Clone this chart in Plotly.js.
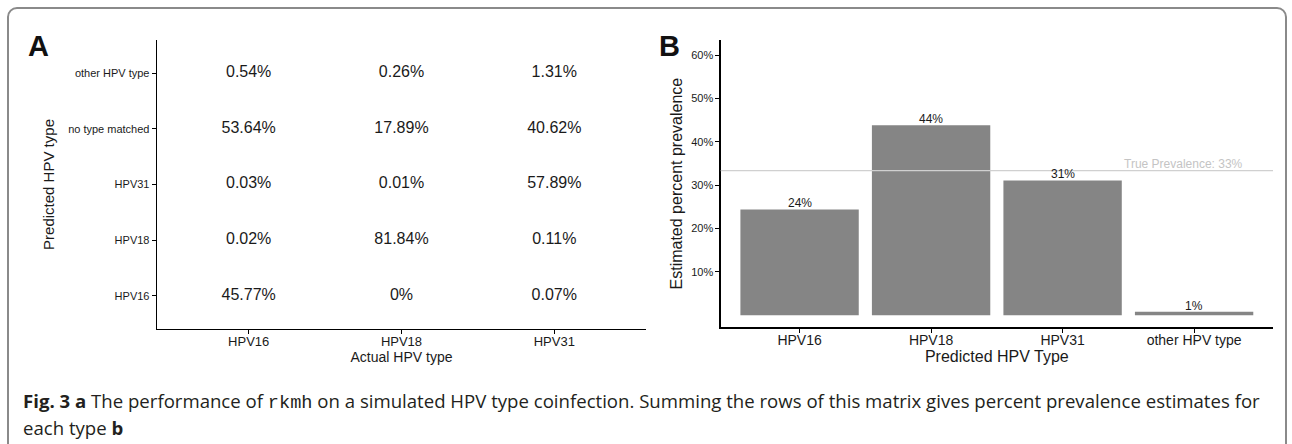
<!DOCTYPE html>
<html>
<head>
<meta charset="utf-8">
<script src="https://cdn.plot.ly/plotly-3.0.1.min.js"></script>
<style>
  html, body { margin: 0; padding: 0; background: #fff; }
  #wrap { position: relative; width: 1292px; height: 444px; overflow: hidden; }
  #frame { position: absolute; left: 7px; top: 7px; width: 1280px; height: 460px;
           border: 2px solid #8a8a8a; border-radius: 10px; box-sizing: border-box; pointer-events: none; }
  #chart { position: absolute; left: 0; top: 0; width: 1292px; height: 444px; }
</style>
</head>
<body>
<div id="wrap">
  <div id="chart"></div>
  <div id="frame"></div>
</div>
<script>
// ---- Panel A: confusion matrix (percent) ----
const actualTypes = ["HPV16", "HPV18", "HPV31"];
const predictedTypes = ["HPV16", "HPV18", "HPV31", "no type matched", "other HPV type"];
// rows follow predictedTypes, columns follow actualTypes
const rowHPV16 = [45.77, 0, 0.07];
const rowHPV18 = [0.02, 81.84, 0.11];
const rowHPV31 = [0.03, 0.01, 57.89];
const rowNoMatch = [53.64, 17.89, 40.62];
const rowOther = [0.54, 0.26, 1.31];

// ---- Panel B: estimated prevalence ----
const prevCategories = ["HPV16", "HPV18", "HPV31", "other HPV type"];
const prevValues = [24.4, 43.8, 31.1, 0.8];
const prevLabels = ["24%", "44%", "31%", "1%"];
const trueValue = 33.33;
const trueLabel = "True Prevalence: 33%";

const rows = [rowHPV16, rowHPV18, rowHPV31, rowNoMatch, rowOther];
const mx = [], my = [], mt = [];
rows.forEach((r, i) => r.forEach((v, j) => {
  mx.push(actualTypes[j]); my.push(predictedTypes[i]); mt.push(v + "%");
}));

const FONT = "Liberation Sans, Arial, sans-serif";

const traceA = {
  type: "scatter", mode: "text", x: mx, y: my, text: mt,
  textfont: { family: FONT, size: 16, color: "#1a1a1a" },
  xaxis: "x", yaxis: "y", hoverinfo: "none", showlegend: false, cliponaxis: false
};
const traceB = {
  type: "bar", x: prevCategories, y: prevValues,
  marker: { color: "#858585" }, width: 0.9,
  xaxis: "x2", yaxis: "y2", hoverinfo: "none", showlegend: false
};

const barLabelAnns = prevCategories.map((c, i) => ({
  text: prevLabels[i], xref: "x2", yref: "y2", x: c, y: prevValues[i],
  xanchor: "center", yanchor: "bottom", showarrow: false, yshift: -3,
  font: { family: FONT, size: 12, color: "#1a1a1a" }
}));

const axBase = {
  showgrid: false, zeroline: false, showline: true, linecolor: "#000", linewidth: 1.3,
  ticks: "outside", ticklen: 4, tickcolor: "#000", tickwidth: 1, fixedrange: true
};

const layout = {
  width: 1292, height: 444,
  margin: { l: 0, r: 0, t: 0, b: 0 },
  paper_bgcolor: "#fff", plot_bgcolor: "rgba(0,0,0,0)",
  font: { family: FONT, color: "#1a1a1a" },
  showlegend: false,
  xaxis: Object.assign({}, axBase, {
    domain: [0.1215, 0.5], anchor: "y", type: "category",
    categoryorder: "array", categoryarray: actualTypes, range: [-0.6, 2.6],
    tickfont: { size: 13, color: "#1a1a1a" }, ticklabelstandoff: -4,
    title: { text: "Actual HPV type", font: { size: 14, color: "#1a1a1a" }, standoff: 0 }
  }),
  yaxis: Object.assign({}, axBase, {
    domain: [0.259, 0.91], anchor: "x", type: "category",
    categoryorder: "array", categoryarray: predictedTypes, range: [-0.6, 4.6],
    tickfont: { size: 11, color: "#1a1a1a" },
    title: { text: "Predicted HPV type", font: { size: 15, color: "#1a1a1a" }, standoff: 10 }
  }),
  xaxis2: Object.assign({}, axBase, {
    domain: [0.5578, 0.9853], anchor: "y2", type: "category",
    categoryorder: "array", categoryarray: prevCategories, range: [-0.6, 3.6],
    tickfont: { size: 14, color: "#1a1a1a" }, ticklabelstandoff: -4,
    title: { text: "Predicted HPV Type", font: { size: 16, color: "#1a1a1a" }, standoff: 0 }
  }),
  yaxis2: Object.assign({}, axBase, {
    domain: [0.2628, 0.91], anchor: "x2", range: [-2.8, 63.5],
    tickvals: [10, 20, 30, 40, 50, 60], ticktext: ["10%", "20%", "30%", "40%", "50%", "60%"],
    tickfont: { size: 11, color: "#1a1a1a" },
    title: { text: "Estimated percent prevalence", font: { size: 16, color: "#1a1a1a" }, standoff: 4 }
  }),
  shapes: [{
    type: "line", xref: "x2 domain", yref: "y2", x0: 0, x1: 1, y0: trueValue, y1: trueValue,
    line: { color: "#d0d0d0", width: 1.2 }, layer: "above"
  }],
  annotations: barLabelAnns.concat([
    { text: trueLabel, xref: "x2 domain", yref: "y2", x: 0.95, y: trueValue,
      xanchor: "right", yanchor: "bottom", showarrow: false, yshift: -2,
      font: { family: FONT, size: 12, color: "#c4c4c4" } },
    { text: "<b>A</b>", xref: "paper", yref: "paper", x: 26 / 1292, y: 1 - 28 / 444,
      xanchor: "left", yanchor: "top", showarrow: false,
      font: { family: FONT, size: 29, color: "#111" } },
    { text: "<b>B</b>", xref: "paper", yref: "paper", x: 657 / 1292, y: 1 - 28 / 444,
      xanchor: "left", yanchor: "top", showarrow: false,
      font: { family: FONT, size: 29, color: "#111" } },
    { text: "<b>Fig. 3 a</b> The performance of <span style=\"font-family:'Liberation Mono',monospace\">rkmh</span> on a simulated HPV type coinfection. Summing the rows of this matrix gives percent prevalence estimates for",
      xref: "paper", yref: "paper", x: 21 / 1292, y: 1 - 401 / 444,
      xanchor: "left", yanchor: "middle", showarrow: false, align: "left",
      font: { family: "Open Sans, Noto Sans, sans-serif", size: 18.6, color: "#231f20" } },
    { text: "each type <b>b</b>",
      xref: "paper", yref: "paper", x: 21 / 1292, y: 1 - 427 / 444,
      xanchor: "left", yanchor: "middle", showarrow: false, align: "left",
      font: { family: "Open Sans, Noto Sans, sans-serif", size: 18.6, color: "#231f20" } }
  ])
};

Plotly.newPlot("chart", [traceA, traceB], layout, { displayModeBar: false, staticPlot: true });
</script>
</body>
</html>
